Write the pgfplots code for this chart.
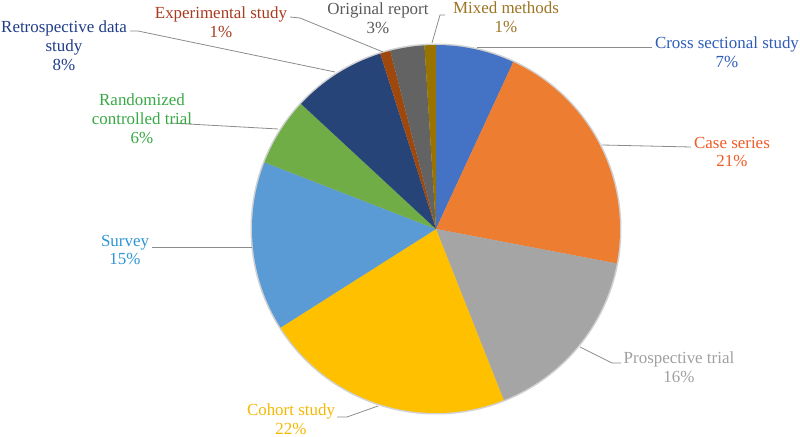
\documentclass[border=0pt]{standalone}
\usepackage{pgfplots}
\usepackage{pgfplotstable}
\pgfplotsset{compat=1.18}
\usepackage{fontspec}
\setmainfont{Liberation Serif}

% slice colours (Office palette)
\definecolor{s0}{HTML}{4472C4}
\definecolor{s1}{HTML}{ED7D31}
\definecolor{s2}{HTML}{A5A5A5}
\definecolor{s3}{HTML}{FFC000}
\definecolor{s4}{HTML}{5B9BD5}
\definecolor{s5}{HTML}{70AD47}
\definecolor{s6}{HTML}{264478}
\definecolor{s7}{HTML}{9E480E}
\definecolor{s8}{HTML}{636363}
\definecolor{s9}{HTML}{997300}
% label colours
\definecolor{t0}{HTML}{2E5CB8}
\definecolor{t1}{HTML}{EE5A24}
\definecolor{t2}{HTML}{A0A0A0}
\definecolor{t3}{HTML}{F5B700}
\definecolor{t4}{HTML}{2E95D6}
\definecolor{t5}{HTML}{38A844}
\definecolor{t6}{HTML}{1F3C88}
\definecolor{t7}{HTML}{A83A1E}
\definecolor{t8}{HTML}{595959}
\definecolor{t9}{HTML}{9C7422}
\definecolor{leader}{HTML}{8C8C8C}

% share of each study type, clockwise from the top
\pgfplotstableread[col sep=comma]{
value,pct
6.9,7
21.1,21
16.0,16
22.0,22
14.9,15
6.0,6
8.2,8
0.9,1
3.0,3
1.0,1
}\piedata

% label with its percentage read from the table (row, colour, x, y, text)
\newcommand\pielabel[5]{%
  \pgfplotstablegetelem{#1}{pct}\of\piedata
  \node[lab, text=#2] at (axis cs:#3,#4) {#5\pgfplotsretval\%};%
}

\begin{document}
\begin{tikzpicture}
\useasboundingbox (0,0) rectangle (800bp,437bp);
\begin{axis}[
    at={(0,0)}, anchor=south west,
    width=800bp, height=437bp, scale only axis,
    xmin=0, xmax=800, ymin=0, ymax=437,
    hide axis, clip=false,
  ]
  \pgfplotsextra{
    \pgfplotstablegetrowsof{\piedata}
    \pgfmathtruncatemacro\N{\pgfplotsretval-1}
    \fill[black!18] (axis cs:436,208) circle[radius=185.5bp];
    \gdef\acc{0}
    \foreach \i in {0,...,\N}{
      \pgfplotstablegetelem{\i}{value}\of\piedata
      \pgfmathsetmacro\a{90-3.6*\acc}
      \pgfmathsetmacro\b{90-3.6*(\acc+\pgfplotsretval)}
      \pgfmathsetmacro\newacc{\acc+\pgfplotsretval}
      \xdef\acc{\newacc}
      \fill[s\i] (axis cs:436,208) -- ++(\a:184bp)
        arc[start angle=\a, end angle=\b, radius=184bp] -- cycle;
    }
  }
  % leader lines
  \draw[leader, line width=0.8bp] (axis cs:130,406) -- (axis cs:138,406) -- (axis cs:335,365);
  \draw[leader, line width=0.8bp] (axis cs:290,420) -- (axis cs:300,419) -- (axis cs:383,385);
  \draw[leader, line width=0.8bp] (axis cs:445,422) -- (axis cs:440,422) -- (axis cs:432,394);
  \draw[leader, line width=0.8bp] (axis cs:652,390) -- (axis cs:477,390);
  \draw[leader, line width=0.8bp] (axis cs:691,290) -- (axis cs:602,292);
  \draw[leader, line width=0.8bp] (axis cs:621,74) -- (axis cs:612,74) -- (axis cs:580,90);
  \draw[leader, line width=0.8bp] (axis cs:337,20) -- (axis cs:347,20) -- (axis cs:378,31);
  \draw[leader, line width=0.8bp] (axis cs:152,190) -- (axis cs:252,190);
  \draw[leader, line width=0.8bp] (axis cs:170,314) -- (axis cs:278,308);
  % labels
  \pgfplotsextra{
    \tikzset{lab/.style={align=center, font=\fontsize{17}{19}\selectfont, inner sep=0pt}}
    \pielabel{0}{t0}{727}{385}{Cross sectional study\\}
    \pielabel{1}{t1}{732}{285}{Case series\\}
    \pielabel{2}{t2}{679}{70}{Prospective trial\\}
    \pielabel{3}{t3}{291}{18}{Cohort study\\}
    \pielabel{4}{t4}{125}{187}{Survey\\}
    \pielabel{5}{t5}{142}{318}{Randomized\\controlled trial\\}
    \pielabel{6}{t6}{64}{391}{Retrospective data\\study\\}
    \pielabel{7}{t7}{221}{415}{Experimental study\\}
    \pielabel{8}{t8}{378}{419}{Original report\\}
    \pielabel{9}{t9}{506}{420}{Mixed methods\\}
  }
\end{axis}
\end{tikzpicture}
\end{document}
